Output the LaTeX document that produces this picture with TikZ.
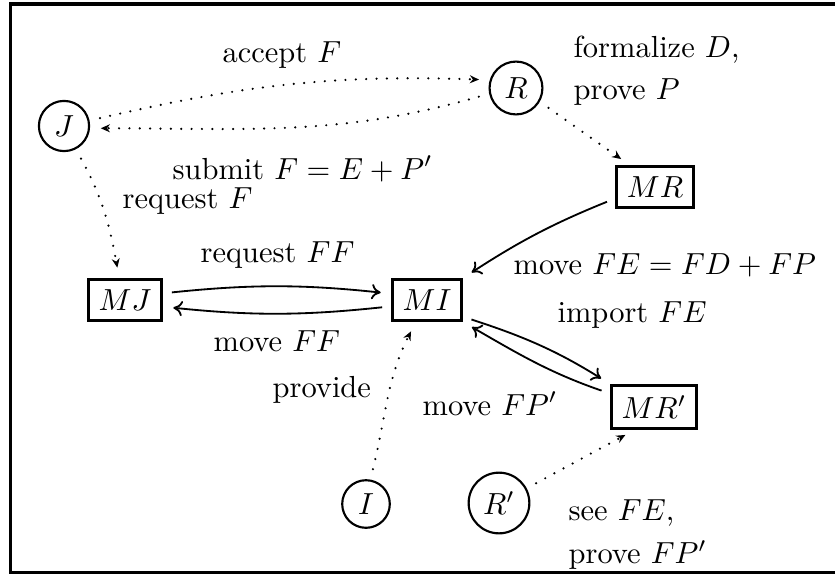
\documentclass[tikz,border=0pt]{standalone}
\usetikzlibrary{arrows.meta}
\begin{document}
\begin{tikzpicture}[x=0.328pt,y=-0.328pt,
  circ/.style={draw,circle,line width=0.7pt,inner sep=2.5pt,minimum size=15.5pt},
  box/.style={draw,rectangle,line width=0.8pt},
  lbl/.style={inner sep=0pt,anchor=base west},
  lbltwo/.style={inner sep=0pt,anchor=north west,align=left},
  dotarr/.style={line width=0.8pt,line cap=round,dash pattern=on 0pt off 3.4pt,
    -{Stealth[length=3pt,width=2.6pt]},shorten >=3.5pt,shorten <=3.5pt},
  solarr/.style={line width=0.6pt,-{To[length=3pt,width=5pt]},shorten >=3.5pt,shorten <=3pt}]
\clip (0,0) rectangle (835,574);
\draw[line width=1.1pt] (10.5,4) rectangle (850,572.5);
% nodes
\node[circ] (J) at (64,126) {$J$};
\node[circ] (R) at (516,88) {$R$};
\node[circ] (I) at (366,504) {$I$};
\node[circ,minimum size=18pt] (Rp) at (499,503) {$R'$};
\node[box] (MJ) at (125,300) {$MJ$};
\node[box] (MI) at (427,300) {$MI$};
\node[box] (MR) at (655,187) {$MR$};
\node[box] (MRp) at (654,407) {$MR'$};
% connectors
\draw[dotarr] (J.12) to[out=13,in=178] (R.163);
\draw[dotarr] (R.192) to[out=196,in=0] (J.355);
\draw[dotarr] (J.-63) to[out=-61,in=100] (MJ.105);
\draw[dotarr] (R.-30) -- (MR.139);
\draw[solarr] (MR.196) to[out=202,in=33] (MI.north east);
\draw[solarr] (MJ.10) to[bend left=6] (MI.170);
\draw[solarr] (MI.190) to[bend left=6] (MJ.350);
\draw[solarr] (MI.-25) to[out=-18,in=148] (MRp.north west);
\draw[solarr] (MRp.163) to[out=161,in=-30] (MI.south east);
\draw[dotarr] (I.80) to[out=76,in=243] (MI.-117);
\draw[dotarr] (Rp.28) -- (MRp.-130);
% labels
\node[lbl] (lacc) at (222,63) {accept $F$};
\node[lbltwo] (lform) at (573,35) {formalize $D$,\\[2pt]prove $P$};
\node[lbl] (lsub) at (172,179) {submit $F=E+P'$};
\node[lbl] (lreqF) at (122,208) {request $F$};
\node[lbl] (lreqFF) at (200,262) {request $FF$};
\node[lbl] (lmvFE) at (513,274) {move $FE=FD+FP$};
\node[lbl] (limp) at (557,322) {import $FE$};
\node[lbl] (lmvFF) at (213,351) {move $FF$};
\node[lbl] (lprov) at (272,397) {provide};
\node[lbl] (lmvFP) at (422,415) {move $FP'$};
\node[lbltwo] (lsee) at (568,499) {see $FE$,\\[2pt]prove $FP'$};
\end{tikzpicture}
\end{document}
